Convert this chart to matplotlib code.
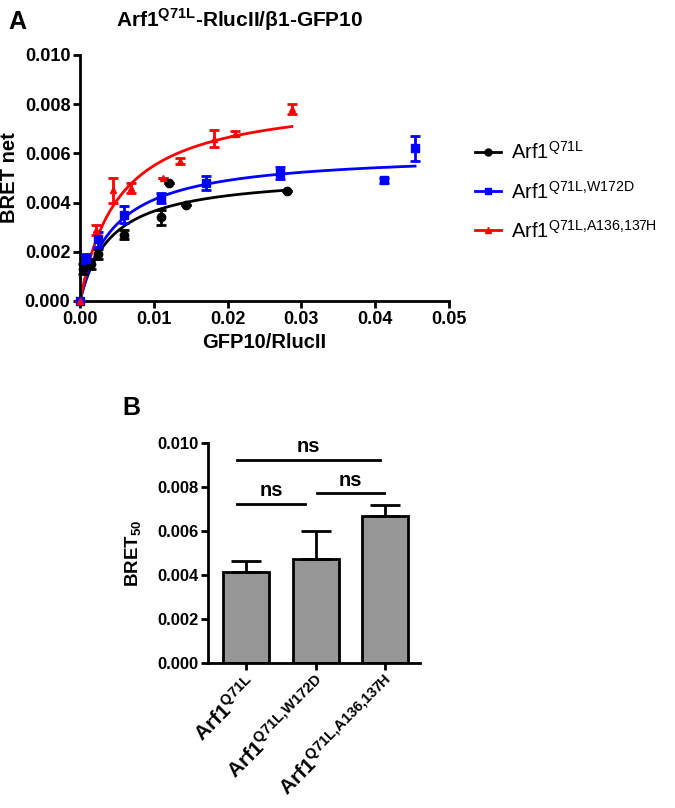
import numpy as np
import matplotlib
matplotlib.use("Agg")
import matplotlib.pyplot as plt
from matplotlib.lines import Line2D

plt.rcParams["font.family"] = ["Liberation Sans", "DejaVu Sans"]
plt.rcParams["mathtext.fontset"] = "custom"
plt.rcParams["mathtext.rm"] = "Liberation Sans"
plt.rcParams["mathtext.bf"] = "Liberation Sans:bold"
plt.rcParams["axes.linewidth"] = 2

# ---------------- data: panel A (saturation curves) ----------------
wt_x = [0.0, 0.0004, 0.0015, 0.0025, 0.0059, 0.0110, 0.0121, 0.0144, 0.0280]
wt_y = [0.0, 0.0013, 0.0015, 0.0019, 0.0027, 0.0034, 0.0048, 0.0039, 0.00445]
wt_err = [0.0, 0.0002, 0.0002, 0.0002, 0.0002, 0.0003, 0.0, 0.0, 0.0]

w172_x = [0.0, 0.0008, 0.0024, 0.0059, 0.0110, 0.0171, 0.0271, 0.0412, 0.0454]
w172_y = [0.0, 0.0017, 0.0025, 0.0035, 0.0042, 0.0048, 0.0052, 0.0049, 0.0062]
w172_err = [0.0, 0.0002, 0.0003, 0.00035, 0.0002, 0.0003, 0.00025, 0.0001, 0.0005]

a136_x = [0.0, 0.0022, 0.0045, 0.0069, 0.0112, 0.0136, 0.0181, 0.0210, 0.0287]
a136_y = [0.0, 0.0029, 0.0045, 0.0046, 0.0050, 0.0057, 0.0066, 0.0068, 0.0078]
a136_err = [0.0, 0.0002, 0.0005, 0.0002, 0.0, 0.00012, 0.00035, 0.0001, 0.0002]

# one-site hyperbola fit parameters (Bmax, K)
fit_bmax = [0.00518, 0.00605, 0.00839]
fit_k = [0.0042, 0.0047, 0.00526]

series_labels = [r"Arf1$^{\mathrm{Q71L}}$",
                 r"Arf1$^{\mathrm{Q71L{,}W172D}}$",
                 r"Arf1$^{\mathrm{Q71L{,}A136{,}137H}}$"]
colors = ["#000000", "#0000ff", "#ff0000"]
markers = ["o", "s", "^"]
marker_sizes = [6, 5.5, 5]

# ---------------- data: panel B (BRET50) ----------------
bar_labels = [r"$\mathbf{Arf1}^{\mathbf{Q71L}}$",
              r"$\mathbf{Arf1}^{\mathbf{Q71L{,}W172D}}$",
              r"$\mathbf{Arf1}^{\mathbf{Q71L{,}A136{,}137H}}$"]
bret50 = [0.00416, 0.00474, 0.00666]
bret50_err = [0.00046, 0.00124, 0.00054]

fig = plt.figure(figsize=(6.75, 8.08), dpi=100)

# ================= Panel A =================
ax = fig.add_axes([0.1185, 0.6275, 0.5467, 0.3045])
xs_all = [wt_x, w172_x, a136_x]
ys_all = [wt_y, w172_y, a136_y]
es_all = [wt_err, w172_err, a136_err]
for i in range(3):
    x = np.array(xs_all[i])
    xx = np.linspace(0, x.max(), 200)
    yy = fit_bmax[i] * xx / (fit_k[i] + xx)
    ax.plot(xx, yy, color=colors[i], lw=2, zorder=2)
    ax.errorbar(x, ys_all[i], yerr=es_all[i], fmt=markers[i], color=colors[i],
                ms=marker_sizes[i], elinewidth=2, capsize=3.5, capthick=2, zorder=3,
                clip_on=False)

ax.set_xlim(0, 0.05)
ax.set_ylim(0, 0.010)
ax.set_xticks([0.0, 0.01, 0.02, 0.03, 0.04, 0.05])
ax.set_xticklabels(["0.00", "0.01", "0.02", "0.03", "0.04", "0.05"])
ax.set_yticks([0.0, 0.002, 0.004, 0.006, 0.008, 0.010])
ax.set_yticklabels(["0.000", "0.002", "0.004", "0.006", "0.008", "0.010"])
ax.spines["top"].set_visible(False)
ax.spines["right"].set_visible(False)
ax.tick_params(width=2, length=5, labelsize=13, pad=2)
for lab in ax.get_xticklabels() + ax.get_yticklabels():
    lab.set_fontweight("bold")
ax.set_xlabel("GFP10/RlucII", fontsize=14.5, fontweight="bold", labelpad=4)
ax.set_ylabel("BRET net", fontsize=14.5, fontweight="bold")
ax.yaxis.set_label_coords(-0.165, 0.5)
fig.text(240 / 675, 1 - 20 / 808, r"Arf1$^{\mathbf{Q71L}}$-RlucII/β1-GFP10",
         fontsize=15, fontweight="bold", ha="center", va="center")

handles = [Line2D([0], [0], color=colors[i], marker=markers[i], lw=2, ms=5) for i in range(3)]
fig.legend(handles, series_labels, loc="upper left", bbox_to_anchor=(0.698, 0.83),
           frameon=False, fontsize=14.5, handlelength=1.3, handletextpad=0.5,
           labelspacing=0.85, borderaxespad=0, borderpad=0.2)

fig.text(0.012, 0.988, "A", fontsize=18, fontweight="bold", va="top")

# ================= Panel B =================
bx = fig.add_axes([0.308, 0.179, 0.314, 0.273])
pos = np.arange(len(bret50))
bx.bar(pos, bret50, width=0.66, color="#969696", edgecolor="black", linewidth=2, zorder=2)
bx.errorbar(pos, bret50, yerr=[np.zeros(3), bret50_err], fmt="none", ecolor="black",
            elinewidth=2, capsize=11, capthick=2, zorder=3)
bx.set_xlim(-0.55, 2.5)
bx.set_ylim(0, 0.010)
bx.set_yticks([0.0, 0.002, 0.004, 0.006, 0.008, 0.010])
bx.set_yticklabels(["0.000", "0.002", "0.004", "0.006", "0.008", "0.010"])
bx.set_xticks(pos)
bx.set_xticklabels(bar_labels, rotation=45, ha="right", rotation_mode="anchor")
bx.spines["top"].set_visible(False)
bx.spines["right"].set_visible(False)
bx.tick_params(width=2, length=5, labelsize=12, pad=2)
bx.tick_params(axis="x", labelsize=15)
for lab in bx.get_yticklabels():
    lab.set_fontweight("bold")
bx.set_ylabel(r"BRET$_{\mathbf{50}}$", fontsize=13.5, fontweight="bold")
bx.yaxis.set_label_coords(-0.3, 0.5)

# significance brackets
sig = [(-0.13, 1.93, 0.00924), (-0.13, 0.85, 0.00724), (1.02, 1.99, 0.00771)]
for x0, x1, yv in sig:
    bx.plot([x0, x1], [yv, yv], color="black", lw=2, clip_on=False)
    bx.text((x0 + x1) / 2, yv + 0.00016, "ns", ha="center", va="bottom",
            fontsize=14.5, fontweight="bold")

fig.text(0.182, 0.51, "B", fontsize=18, fontweight="bold", va="top")

fig.savefig("out.png", dpi=100)
